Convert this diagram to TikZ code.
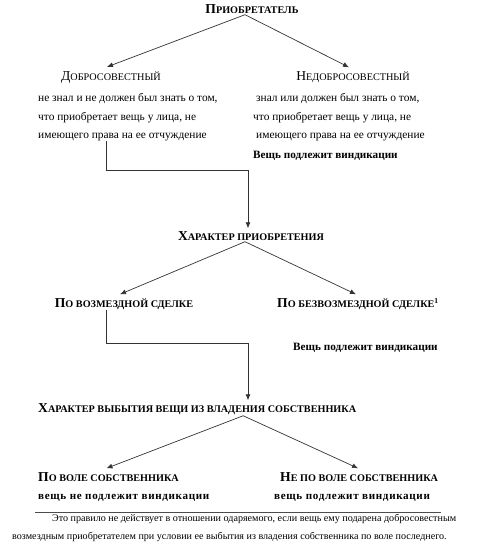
\documentclass[tikz,border=0pt]{standalone}
\usepackage{fontspec}
\setmainfont{Liberation Serif}
\newfontfamily\widefont[LetterSpace=6]{Liberation Serif}
\usetikzlibrary{arrows.meta}

% fake small caps: big first letter, small rest
\newcommand{\fsc}[2]{{\fontsize{13.6}{15}\selectfont #1}{\fontsize{10.2}{12}\selectfont #2}}

\begin{document}
\begin{tikzpicture}[x=1pt,y=-1pt]

		\tikzstyle{head}=[inner sep=0pt,font=\bfseries]
		\tikzstyle{txt}=[inner sep=0pt,anchor=west,font=\fontsize{11.4}{13}\selectfont]
		\tikzstyle{note}=[inner sep=0pt,anchor=west,font=\fontsize{10.1}{12}\selectfont]
		\tikzstyle{link}=[-{Latex[length=6pt,width=5pt]},draw=black!80,line width=0.7pt]

		\useasboundingbox (0,0) rectangle (487,552);

		% acquirer
		\node[head]	(acq)	at (252,9)	{\fsc{П}{РИОБРЕТАТЕЛЬ}};
		\node[inner sep=0pt]	(good)	at (111,77)	{\fsc{Д}{ОБРОСОВЕСТНЫЙ}};
		\node[inner sep=0pt]	(bad)	at (353,77)	{\fsc{Н}{ЕДОБРОСОВЕСТНЫЙ}};

		\node[txt]	(good1)	at (38,99)	{не знал и не должен был знать о том,};
		\node[txt]	(good2)	at (38,118)	{что приобретает вещь у лица, не};
		\node[txt]	(good3)	at (38,137)	{имеющего права на ее отчуждение};

		\node[txt]	(bad1)	at (256,99)	{знал или должен был знать о том,};
		\node[txt]	(bad2)	at (253,118)	{что приобретает вещь у лица, не};
		\node[txt]	(bad3)	at (256,137)	{имеющего права на ее отчуждение};
		\node[txt,font=\fontsize{11.2}{13}\selectfont\bfseries]	(badv)	at (253,156)	{Вещь подлежит виндикации};

		\draw[link] ([xshift=-7pt,yshift=-1pt]acq.south) -- ([xshift=-4pt,yshift=4pt]good.north);
		\draw[link] ([xshift=-7pt,yshift=-1pt]acq.south) -- ([xshift=-4pt,yshift=4pt]bad.north);

		% character of acquisition
		\node[head]	(char)	at (251,236)	{\fsc{Х}{АРАКТЕР ПРИОБРЕТЕНИЯ}};
		\node[head]	(paid)	at (124,304)	{\fsc{П}{О ВОЗМЕЗДНОЙ СДЕЛКЕ}};
		\node[head,anchor=west]	(free)	at (277,304)	{\fsc{П}{О БЕЗВОЗМЕЗДНОЙ СДЕЛКЕ}\textsuperscript{\fontsize{7.5}{8}\selectfont 1}};
		\node[txt,font=\fontsize{11.2}{13}\selectfont\bfseries]	(freev)	at (293,348)	{Вещь подлежит виндикации};

		\coordinate (bend1) at (106,170);
		\draw[link] (bend1 |- good3.south) -- (bend1) -| ([xshift=-3pt,yshift=3pt]char.north);

		\draw[link] ([xshift=-6pt,yshift=-1pt]char.south) -- ([xshift=-4pt,yshift=4pt]paid.north);
		\draw[link] ([xshift=-6pt,yshift=-1pt]char.south) -- ([xshift=-2pt,yshift=4pt]free.north);

		% character of loss
		\node[head,anchor=west]	(loss)	at (38,409)	{\fsc{Х}{АРАКТЕР ВЫБЫТИЯ ВЕЩИ ИЗ ВЛАДЕНИЯ СОБСТВЕННИКА}};
		\node[head,anchor=west]	(will)	at (38,477)	{\fsc{П}{О ВОЛЕ СОБСТВЕННИКА}};
		\node[head,anchor=west]	(nowill)	at (280,477)	{\fsc{Н}{Е ПО ВОЛЕ СОБСТВЕННИКА}};
		\node[txt,font=\fontsize{11.1}{13}\selectfont\widefont\bfseries]	(willv)	at (38,498)	{вещь не подлежит виндикации};
		\node[txt,font=\fontsize{11.1}{13}\selectfont\widefont\bfseries]	(nowillv)	at (274,498)	{вещь подлежит виндикации};

		\coordinate (bend2) at (106,343);
		\draw[link] (bend2 |- paid.south) -- (bend2) -| ([xshift=-3pt,yshift=3pt]char.north |- loss.north);

		\draw[link] ([xshift=46pt,yshift=-1pt]loss.south) -- ([xshift=-2pt,yshift=4pt]will.north);
		\draw[link] ([xshift=46pt,yshift=-1pt]loss.south) -- ([xshift=-1pt,yshift=4pt]nowill.north);

		% footnote
		\draw[black!70,line width=0.8pt] (35,512) -- (441,512);
		\node[note]	(note1)	at (52,519)	{Это правило не действует в отношении одаряемого, если вещь ему подарена добросовестным};
		\node[note]	(note2)	at (12,537)	{возмездным приобретателем при условии ее выбытия из владения собственника по воле последнего.};

	\end{tikzpicture}
\end{document}
